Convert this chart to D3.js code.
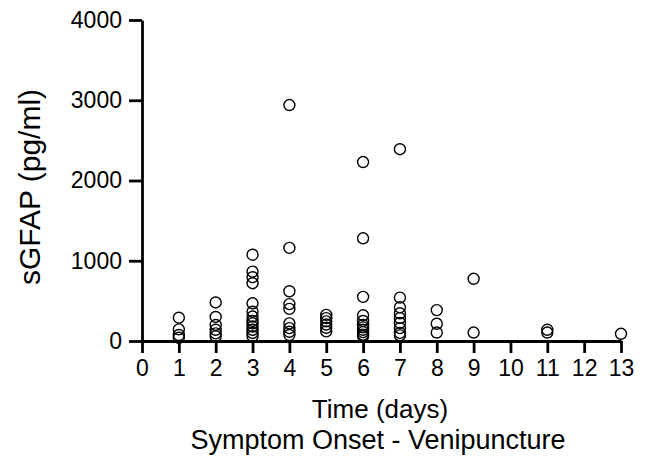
<!DOCTYPE html>
<html>
<head>
<meta charset="utf-8">
<script src="https://cdn.jsdelivr.net/npm/d3@7"></script>
<style>
  body { margin: 0; background: #fff; }
  svg { display: block; }
  text { font-family: "Liberation Sans", Arial, sans-serif; fill: #000; }
  .axis path, .axis line { stroke: #000; stroke-width: 2.8; }
</style>
</head>
<body>
<svg width="646" height="458"></svg>
<script>
// sGFAP values (pg/ml), grouped by day
var days = [1, 2, 3, 4, 5, 6, 7, 8, 9, 11, 13];
var day1 = [290, 145, 75, 40];
var day2 = [480, 300, 200, 140, 95, 60];
var day3 = [1075, 865, 795, 720, 470, 365, 305, 250, 220, 180, 140, 100, 60];
var day4 = [2940, 1160, 620, 460, 400, 220, 160, 115, 75];
var day5 = [325, 285, 245, 205, 165, 120];
var day6 = [2230, 1280, 550, 320, 250, 200, 170, 140, 110, 80, 60];
var day7 = [2390, 540, 420, 345, 285, 225, 160, 100, 70];
var day8 = [385, 215, 105];
var day9 = [775, 105];
var day11 = [140, 105];
var day13 = [90];
var values = [day1, day2, day3, day4, day5, day6, day7, day8, day9, day11, day13];

var xTicks = [0, 1, 2, 3, 4, 5, 6, 7, 8, 9, 10, 11, 12, 13];
var yTicks = [0, 1000, 2000, 3000, 4000];

var svg = d3.select("svg");

var x = d3.scaleLinear().domain([0, 13]).range([142, 621]),
  y = d3.scaleLinear().domain([0, 4000]).range([341, 20]);

var points = [];
days.forEach(function(d, i) {
  values[i].forEach(function(v) {
    points.push({day: d, value: v});
  });
});

svg.append("g")
  .attr("class", "axis")
  .attr("transform", "translate(0," + y(0) + ")")
  .call(d3.axisBottom(x).tickValues(xTicks).tickFormat(d3.format("d"))
    .tickSize(12).tickSizeOuter(0).tickPadding(7))
  .call(function(g) {
    g.selectAll("text").style("font-size", "23px");
  });

svg.append("g")
  .attr("class", "axis")
  .attr("transform", "translate(" + x(0) + ",0)")
  .call(d3.axisLeft(y).tickValues(yTicks).tickFormat(d3.format("d"))
    .tickSize(13).tickSizeOuter(0).tickPadding(7))
  .call(function(g) {
    g.selectAll("text").style("font-size", "23px");
  });

svg.selectAll(".dot")
  .data(points)
  .enter()
  .append("circle")
  .attr("class", "dot")
  .attr("cx", function(d) { return x(d.day); })
  .attr("cy", function(d) { return y(d.value); })
  .attr("r", 5.5)
  .attr("fill", "none")
  .attr("stroke", "#000")
  .attr("stroke-width", 1.4);

// axis titles
svg.append("text")
  .attr("transform", "translate(40," + 187 + ") rotate(-90)")
  .attr("text-anchor", "middle")
  .style("font-size", "30px")
  .text("sGFAP (pg/ml)");

svg.append("text")
  .attr("x", 380)
  .attr("y", 418)
  .attr("text-anchor", "middle")
  .style("font-size", "26px")
  .text("Time (days)");

svg.append("text")
  .attr("x", 378)
  .attr("y", 449)
  .attr("text-anchor", "middle")
  .style("font-size", "27px")
  .text("Symptom Onset - Venipuncture");
</script>
</body>
</html>
